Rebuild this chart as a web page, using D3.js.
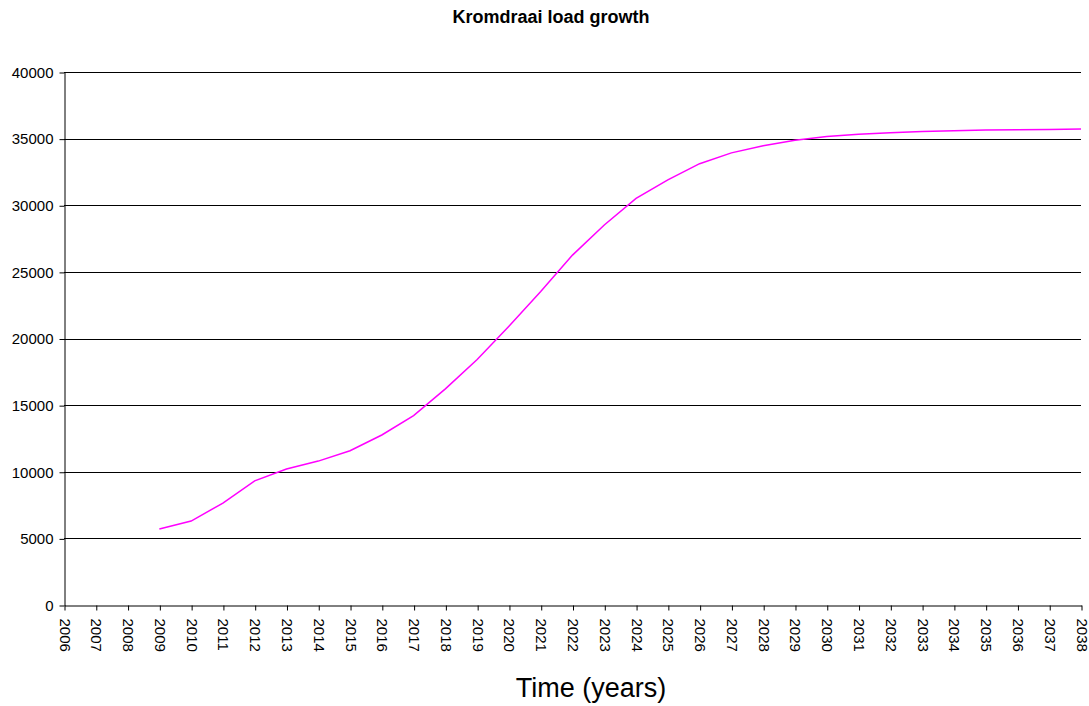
<!DOCTYPE html>
<html>
<head>
<meta charset="utf-8">
<script src="https://cdn.jsdelivr.net/npm/d3@7"></script>
<style>
  html, body { margin: 0; padding: 0; background: #fff; }
  svg { display: block; font-family: Arial, "Liberation Sans", sans-serif; }
</style>
</head>
<body>
<svg id="chart" width="1089" height="706"></svg>
<script>
// Kromdraai projected load per year
const years = d3.range(2006, 2039);
const loadYears = d3.range(2009, 2039);
const loadValues = [
  5700, 6300, 7650, 9320, 10200, 10800, 11580, 12760, 14210, 16220,
  18420, 20920, 23520, 26260, 28520, 30520, 31900, 33120, 33930, 34470,
  34870, 35160, 35330, 35450, 35540, 35590, 35640, 35670, 35690, 35720
];
const yTicks = [0, 5000, 10000, 15000, 20000, 25000, 30000, 35000, 40000];

const svg = d3.select("#chart");
const plotLeft = 64, plotRight = 1081, plotTop = 72, plotBottom = 605;

const x = d3.scalePoint().domain(years).range([plotLeft, plotRight]);
const y = d3.scaleLinear().domain([0, 40000]).range([plotBottom, plotTop]);

// Title
svg.append("text")
  .attr("x", 551).attr("y", 23)
  .attr("text-anchor", "middle")
  .attr("font-size", 18).attr("font-weight", "bold")
  .text("Kromdraai load growth");

// Horizontal gridlines
svg.append("g")
  .selectAll("line")
  .data(yTicks.filter(d => d > 0))
  .join("line")
  .attr("x1", plotLeft).attr("x2", plotRight)
  .attr("y1", d => Math.round(y(d)) + 0.5).attr("y2", d => Math.round(y(d)) + 0.5)
  .attr("stroke", "#000").attr("stroke-width", 1);

// Y axis
const yAxis = svg.append("g")
  .attr("transform", `translate(${plotLeft + 0.5},0.5)`)
  .call(d3.axisLeft(y).tickValues(yTicks).tickSize(5).tickSizeOuter(0).tickPadding(6).tickFormat(d3.format("d")));
yAxis.selectAll("text").attr("font-size", 15).attr("fill", "#000").attr("font-family", "Arial, 'Liberation Sans', sans-serif");
yAxis.selectAll("line, path").attr("stroke", "#000");

// X axis
const xAxis = svg.append("g")
  .attr("transform", `translate(0.5,${plotBottom + 0.5})`)
  .call(d3.axisBottom(x).tickSize(5).tickSizeOuter(0).tickFormat(d3.format("d")));
xAxis.selectAll("line, path").attr("stroke", "#000");
xAxis.selectAll("text")
  .attr("font-size", 15).attr("fill", "#000")
  .attr("font-family", "Arial, 'Liberation Sans', sans-serif")
  .attr("text-anchor", "start")
  .attr("dy", null).attr("y", null)
  .attr("dominant-baseline", "central")
  .attr("transform", "translate(0,13) rotate(90)");

// Load series
const pts = loadYears.map((yr, i) => [yr, loadValues[i]]);
svg.append("path")
  .datum(pts)
  .attr("fill", "none")
  .attr("stroke", "#ff00ff")
  .attr("stroke-width", 1.5)
  .attr("d", d3.line().x(d => x(d[0])).y(d => y(d[1])));

// X axis title
svg.append("text")
  .attr("x", 591).attr("y", 697)
  .attr("text-anchor", "middle")
  .attr("font-size", 27)
  .text("Time (years)");
</script>
</body>
</html>
